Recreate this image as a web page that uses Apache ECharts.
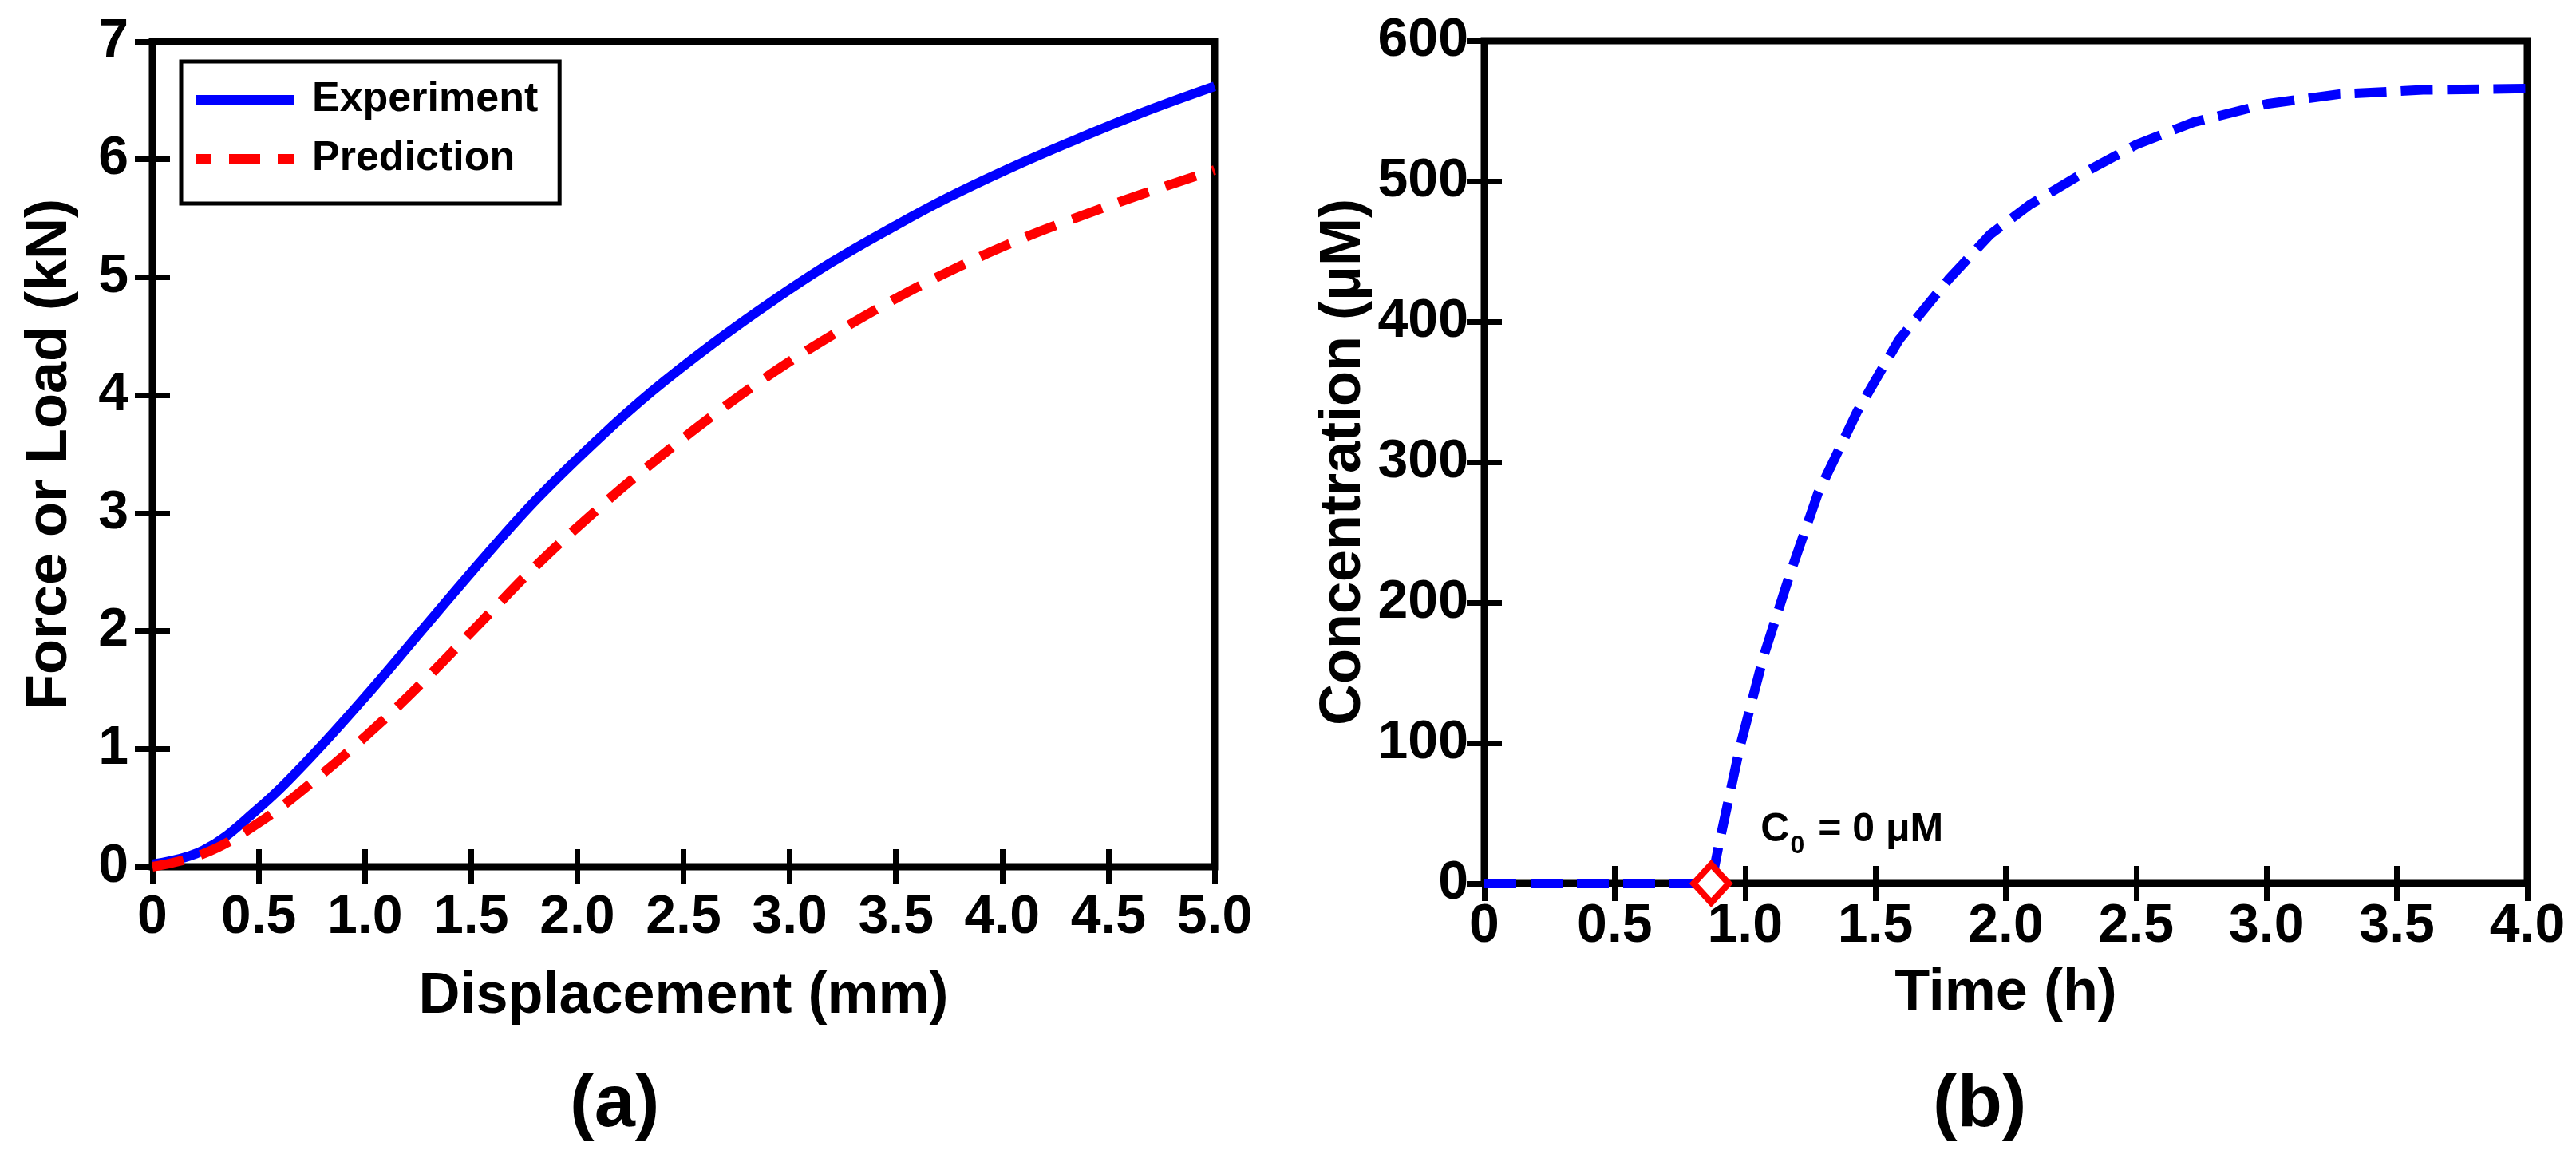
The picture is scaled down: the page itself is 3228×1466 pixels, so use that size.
<!DOCTYPE html>
<html>
<head>
<meta charset="utf-8">
<script src="https://cdn.jsdelivr.net/npm/echarts@6/dist/echarts.min.js"></script>
<style>
html,body{margin:0;padding:0;background:#fff;}
#chart{width:3228px;height:1466px;}
</style>
</head>
<body>
<div id="chart"></div>
<script>
// ---------- Panel (a) data ----------
const displacementA = [0, 0.24, 0.49, 0.74, 1.03, 1.28, 1.56, 1.81, 2.10, 2.35, 2.64, 2.92, 3.20, 3.50, 3.75, 4.03, 4.31, 4.65, 5.0];
const experimentA   = [0.02, 0.14, 0.48, 0.92, 1.50, 2.03, 2.62, 3.12, 3.63, 4.03, 4.44, 4.80, 5.13, 5.44, 5.68, 5.92, 6.14, 6.39, 6.62];
const predictionA   = [0.0, 0.11, 0.36, 0.70, 1.15, 1.58, 2.10, 2.56, 3.04, 3.42, 3.83, 4.19, 4.51, 4.82, 5.05, 5.28, 5.48, 5.70, 5.91];
const xTickLabelsA = ['0','0.5','1.0','1.5','2.0','2.5','3.0','3.5','4.0','4.5','5.0'];
const yTickLabelsA = ['0','1','2','3','4','5','6','7'];
const seriesNamesA = ['Experiment', 'Prediction'];

// ---------- Panel (b) data ----------
const timeB = [0, 0.87, 0.90, 0.98, 1.07, 1.17, 1.28, 1.43, 1.59, 1.78, 1.94, 2.09, 2.28, 2.50, 2.72, 3.00, 3.28, 3.60, 4.0];
const concB = [0, 0, 28, 97, 161, 219, 278, 336, 387, 430, 462, 483, 504, 526, 542, 555, 562, 565, 566];
const startPointB = [0.87, 0];
const annotPointB = [1.06, 38];
const xTickLabelsB = ['0','0.5','1.0','1.5','2.0','2.5','3.0','3.5','4.0'];
const yTickLabelsB = ['0','100','200','300','400','500','600'];

const regular = "'Liberation Sans', Arial, sans-serif";

function zip(xs, ys){ return xs.map((x,i)=>[x, ys[i]]); }

function axisBase(gridIndex, min, max, interval, position, labels, showLabel, margin){
  return {
    type: 'value', gridIndex, min, max, interval, position,
    axisLine: {show: false},
    splitLine: {show: false},
    axisTick: {show: true, inside: true, length: 22, lineStyle: {color: '#000', width: 7}},
    axisLabel: {
      show: showLabel, margin: margin, color: '#000', fontSize: 68, fontWeight: 'bold', fontFamily: regular,
      formatter: v => labels[Math.round((v - min) / interval)]
    }
  };
}

const titleStyle = {color: '#000', fontSize: 72, fontWeight: 'bold', fontFamily: regular};

const option = {
  backgroundColor: '#fff',
  animation: false,
  grid: [
    {left: 191, right: 1706, top: 52, bottom: 380, show: true, borderColor: '#000', borderWidth: 9, backgroundColor: 'transparent'},
    {left: 1860, right: 61, top: 51, bottom: 359, show: true, borderColor: '#000', borderWidth: 9, backgroundColor: 'transparent'}
  ],
  xAxis: [
    Object.assign(axisBase(0, 0, 5, 0.5, 'bottom', xTickLabelsA, true, 30), {
      name: 'Displacement (mm)', nameLocation: 'middle', nameGap: 127, nameTextStyle: titleStyle
    }),
    axisBase(0, 0, 5, 0.5, 'top', xTickLabelsA, false, 0),
    Object.assign(axisBase(1, 0, 4, 0.5, 'bottom', xTickLabelsB, true, 20), {
      name: 'Time (h)', nameLocation: 'middle', nameGap: 102, nameTextStyle: titleStyle
    }),
    axisBase(1, 0, 4, 0.5, 'top', xTickLabelsB, false, 0)
  ],
  yAxis: [
    Object.assign(axisBase(0, 0, 7, 1, 'left', yTickLabelsA, true, 30), {
      name: 'Force or Load (kN)', nameLocation: 'middle', nameGap: 92, nameRotate: 90, nameTextStyle: titleStyle
    }),
    axisBase(0, 0, 7, 1, 'right', yTickLabelsA, false, 0),
    Object.assign(axisBase(1, 0, 600, 100, 'left', yTickLabelsB, true, 20), {
      name: 'Concentration (μM)', nameLocation: 'middle', nameGap: 140, nameRotate: 90, nameTextStyle: titleStyle
    }),
    axisBase(1, 0, 600, 100, 'right', yTickLabelsB, false, 0)
  ],
  legend: {
    orient: 'vertical', left: 227, top: 77,
    data: [
      {name: seriesNamesA[0], icon: 'path://M0,0h123v12h-123z', itemStyle: {color: '#0000ff', borderWidth: 0}},
      {name: seriesNamesA[1], icon: 'path://M0,0h20v12h-20z M42,0h39v12h-39z M103,0h20v12h-20z', itemStyle: {color: '#ff0000', borderWidth: 0}}
    ],
    borderColor: '#000', borderWidth: 5, borderRadius: 0,
    padding: [22, 27, 30, 18], itemGap: 22,
    itemWidth: 123, itemHeight: 12,
    symbolKeepAspect: false,
    textStyle: {color: '#000', fontSize: 52, fontWeight: 'bold', fontFamily: regular, padding: [0, 0, 0, 18]}
  },
  graphic: [
    {type: 'text', left: 714, top: 1340, style: {text: '(a)', fill: '#000', font: "bold 92px 'Liberation Sans', Arial, sans-serif"}},
    {type: 'text', left: 2422, top: 1340, style: {text: '(b)', fill: '#000', font: "bold 92px 'Liberation Sans', Arial, sans-serif"}}
  ],
  series: [
    {
      name: seriesNamesA[0], type: 'line', xAxisIndex: 0, yAxisIndex: 0,
      data: zip(displacementA, experimentA), smooth: 0.4,
      symbol: 'none', clip: false, z: 5,
      lineStyle: {color: '#0000ff', width: 12, type: 'solid'},
      itemStyle: {color: '#0000ff'}
    },
    {
      name: seriesNamesA[1], type: 'line', xAxisIndex: 0, yAxisIndex: 0,
      data: zip(displacementA, predictionA), smooth: 0.4,
      symbol: 'none', clip: false, z: 6,
      lineStyle: {color: '#ff0000', width: 12, type: [40, 22]},
      itemStyle: {color: '#ff0000'}
    },
    {
      name: 'Concentration', type: 'line', xAxisIndex: 2, yAxisIndex: 2,
      data: zip(timeB, concB), smooth: false,
      symbol: 'none', clip: false, z: 5,
      lineStyle: {color: '#0000ff', width: 12, type: [40, 18]},
      itemStyle: {color: '#0000ff'}
    },
    {
      name: 'Start', type: 'scatter', xAxisIndex: 2, yAxisIndex: 2,
      data: [startPointB], symbol: 'diamond', symbolSize: [44, 48], clip: false, z: 7,
      itemStyle: {color: '#ffffff', borderColor: '#ff0000', borderWidth: 8, opacity: 1}
    },
    {
      name: 'Annotation', type: 'scatter', xAxisIndex: 2, yAxisIndex: 2,
      data: [annotPointB], symbolSize: 0, clip: false, z: 7, silent: true,
      itemStyle: {opacity: 1},
      label: {
        show: true, position: 'right', distance: 0, color: '#000', opacity: 1,
        formatter: '{c|C}{s|0}{c| = 0 μM}',
        rich: {
          c: {color: '#000', fontSize: 50, fontWeight: 'bold', fontFamily: regular, lineHeight: 60},
          s: {color: '#000', fontSize: 32, fontWeight: 'bold', fontFamily: regular, lineHeight: 32, padding: [40, 3, 0, 1]}
        }
      }
    }
  ]
};

const chart = echarts.init(document.getElementById('chart'), null, {renderer: 'canvas'});
chart.setOption(option);
</script>
</body>
</html>
